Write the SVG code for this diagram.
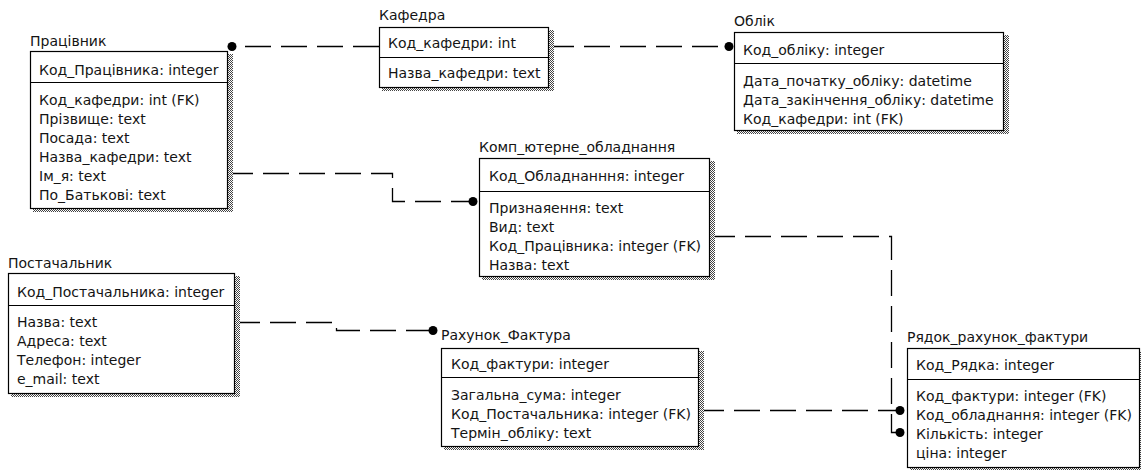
<svg xmlns="http://www.w3.org/2000/svg" width="1141" height="470" viewBox="0 0 1141 470">
  <style>
    text { font-family: "DejaVu Sans", Verdana, sans-serif; font-size: 14px; fill: #141414; }
    .box { fill: #fff; stroke: #000; stroke-width: 1.2; }
    .shadow { fill: url(#dots); }
    .div { stroke: #000; stroke-width: 1.2; }
    .rel { fill: none; stroke: #000; stroke-width: 1.3; stroke-dasharray: 26 10; }
    .end { fill: #000; }
  </style>
  <defs>
    <pattern id="dots" width="2" height="2" patternUnits="userSpaceOnUse">
      <rect width="2" height="2" fill="#fff"/>
      <rect width="1" height="1" fill="#444"/>
      <rect x="1" y="1" width="1" height="1" fill="#444"/>
    </pattern>
  </defs>

  <rect width="1141" height="470" fill="#fff"/>

  <!-- relationships -->
  <g id="connectors">
    <path class="rel" d="M379,46.5 H232"/>
    <circle class="end" cx="232" cy="46.5" r="4.5"/>
    <path class="rel" d="M548,46.5 H729"/>
    <circle class="end" cx="729" cy="46.5" r="4.5"/>
    <path class="rel" d="M227,173.5 H392.5 V201.5 H473"/>
    <circle class="end" cx="473" cy="201.5" r="4.5"/>
    <path class="rel" d="M709,236.5 H891.5 V432.5 H900"/>
    <circle class="end" cx="900" cy="432.5" r="4.5"/>
    <path class="rel" d="M698,410.5 H900"/>
    <circle class="end" cx="900" cy="410.5" r="4.5"/>
    <path class="rel" d="M234,322.5 H336.5 V330.5 H433"/>
    <circle class="end" cx="433" cy="330.5" r="4.5"/>
  </g>

  <g id="pracivnyk">
    <text x="30" y="46">Працівник</text>
    <rect class="shadow" x="33" y="54" width="200" height="158"/>
    <rect class="box" x="30.5" y="51.5" width="197" height="157"/>
    <line class="div" x1="30.5" y1="82.5" x2="227.5" y2="82.5"/>
    <text x="39" y="75">Код_Працівника: integer</text>
    <text x="39" y="105">Код_кафедри: int (FK)</text>
    <text x="39" y="124">Прізвище: text</text>
    <text x="39" y="143">Посада: text</text>
    <text x="39" y="162">Назва_кафедри: text</text>
    <text x="39" y="181">Ім_я: text</text>
    <text x="39" y="200">По_Батькові: text</text>
  </g>

  <g id="kafedra">
    <text x="379" y="20">Кафедра</text>
    <rect class="shadow" x="382" y="30" width="172" height="61"/>
    <rect class="box" x="379.5" y="27.5" width="169" height="60"/>
    <line class="div" x1="379.5" y1="57.5" x2="548.5" y2="57.5"/>
    <text x="388" y="48">Код_кафедри: int</text>
    <text x="388" y="78">Назва_кафедри: text</text>
  </g>

  <g id="oblik">
    <text x="734" y="26">Облік</text>
    <rect class="shadow" x="737" y="35" width="272" height="99"/>
    <rect class="box" x="734.5" y="32.5" width="269" height="98"/>
    <line class="div" x1="734.5" y1="63.5" x2="1003.5" y2="63.5"/>
    <text x="743" y="55">Код_обліку: integer</text>
    <text x="743" y="86">Дата_початку_обліку: datetime</text>
    <text x="743" y="105">Дата_закінчення_обліку: datetime</text>
    <text x="743" y="124">Код_кафедри: int (FK)</text>
  </g>

  <g id="komp_obladnannia">
    <text x="479" y="152">Комп_ютерне_обладнання</text>
    <rect class="shadow" x="482" y="161" width="233" height="119"/>
    <rect class="box" x="479.5" y="158.5" width="230" height="118"/>
    <line class="div" x1="479.5" y1="191.5" x2="709.5" y2="191.5"/>
    <text x="489" y="181">Код_Обладнанння: integer</text>
    <text x="489" y="213">Признаяення: text</text>
    <text x="489" y="232">Вид: text</text>
    <text x="489" y="251">Код_Працівника: integer (FK)</text>
    <text x="489" y="270">Назва: text</text>
  </g>

  <g id="postachalnyk">
    <text x="8" y="268">Постачальник</text>
    <rect class="shadow" x="11" y="276" width="229" height="121"/>
    <rect class="box" x="8.5" y="273.5" width="226" height="120"/>
    <line class="div" x1="8.5" y1="305.5" x2="234.5" y2="305.5"/>
    <text x="17" y="297">Код_Постачальника: integer</text>
    <text x="17" y="327">Назва: text</text>
    <text x="17" y="346">Адреса: text</text>
    <text x="17" y="365">Телефон: integer</text>
    <text x="17" y="384">e_mail: text</text>
  </g>

  <g id="rakhunok_faktura">
    <text x="441" y="340">Рахунок_Фактура</text>
    <rect class="shadow" x="444" y="351" width="260" height="99"/>
    <rect class="box" x="441.5" y="348.5" width="257" height="98"/>
    <line class="div" x1="441.5" y1="377.5" x2="698.5" y2="377.5"/>
    <text x="451" y="369">Код_фактури: integer</text>
    <text x="451" y="400">Загальна_сума: integer</text>
    <text x="451" y="419">Код_Постачальника: integer (FK)</text>
    <text x="451" y="438">Термін_обліку: text</text>
  </g>

  <g id="riadok_rakhunku">
    <text x="907" y="342">Рядок_рахунок_фактури</text>
    <rect class="shadow" x="910" y="351" width="235" height="120"/>
    <rect class="box" x="907.5" y="348.5" width="232" height="119"/>
    <line class="div" x1="907.5" y1="379.5" x2="1139.5" y2="379.5"/>
    <text x="916" y="370">Код_Рядка: integer</text>
    <text x="916" y="401">Код_фактури: integer (FK)</text>
    <text x="916" y="420">Код_обладнання: integer (FK)</text>
    <text x="916" y="439">Кількість: integer</text>
    <text x="916" y="458">ціна: integer</text>
  </g>
</svg>
